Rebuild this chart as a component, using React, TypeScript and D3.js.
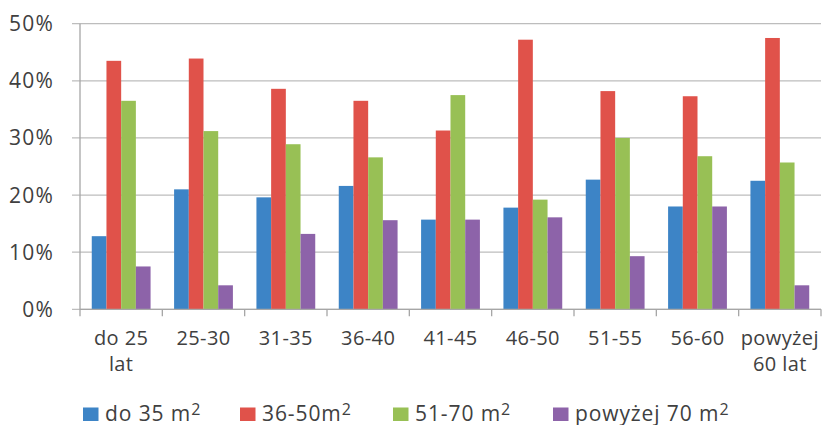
import React from "react";
import * as d3 from "d3";

// Age groups (two-line labels) and flat-size classes
const categories = ["do 25|lat", "25-30", "31-35", "36-40", "41-45", "46-50", "51-55", "56-60", "powyżej|60 lat"];
const seriesNames = ["do 35 m", "36-50m", "51-70 m", "powyżej 70 m"];
const seriesColors = ["#3D84C6", "#E0524A", "#98C055", "#8D63A9"];

// Share of respondents per group (%)
const do35 = [12.8, 21.0, 19.6, 21.6, 15.7, 17.8, 22.7, 18.0, 22.5];
const s36_50 = [43.5, 43.9, 38.6, 36.5, 31.3, 47.2, 38.2, 37.3, 47.5];
const s51_70 = [36.5, 31.2, 28.9, 26.6, 37.5, 19.2, 30.0, 26.8, 25.7];
const pow70 = [7.5, 4.2, 13.2, 15.6, 15.7, 16.1, 9.3, 18.0, 4.2];
const seriesValues = [do35, s36_50, s51_70, pow70];

const yTicks = [0, 10, 20, 30, 40, 50];

const W = 824;
const H = 425;
const left = 80;
const right = 821;
const top = 23.7;
const bottom = 309.3;

const textColor = "#404040";
const font = "'Open Sans', sans-serif";

export default function App() {
  const x0 = d3.scaleBand<number>().domain(d3.range(categories.length)).range([left, right]).padding(0);
  const x1 = d3
    .scaleBand<number>()
    .domain(d3.range(seriesNames.length))
    .range([0, x0.bandwidth()])
    .paddingInner(0)
    .paddingOuter(0.8);
  const y = d3.scaleLinear().domain([0, 50]).range([bottom, top]);

  const legendX = [83, 240, 393, 553];

  return (
    <svg width={W} height={H} style={{ position: "absolute", left: 0, top: 0, background: "#fff" }}>
      {/* horizontal gridlines with tick stubs */}
      {yTicks.map((t) => (
        <line key={"g" + t} x1={left - 8} x2={right} y1={y(t)} y2={y(t)} stroke="#BDBDBD" strokeWidth={1.3} />
      ))}
      {yTicks.map((t) => (
        <text
          key={"yl" + t}
          x={54}
          y={y(t) + 7.5}
          textAnchor="end"
          fontFamily={font}
          fontSize={21}
          letterSpacing={1.2}
          fill={textColor}
        >
          {t}%
        </text>
      ))}

      {/* bars */}
      {seriesValues.map((vals, si) =>
        vals.map((v, ci) => (
          <rect
            key={`b${si}-${ci}`}
            x={(x0(ci) as number) + (x1(si) as number)}
            y={y(v)}
            width={x1.bandwidth()}
            height={y(0) - y(v)}
            fill={seriesColors[si]}
          />
        ))
      )}

      {/* axes */}
      <line x1={left} x2={left} y1={top} y2={bottom} stroke="#A6A6A6" strokeWidth={1.3} />
      <line x1={left} x2={right} y1={bottom} y2={bottom} stroke="#A6A6A6" strokeWidth={1.3} />
      {d3.range(categories.length + 1).map((i) => {
        const xx = left + i * x0.step();
        return <line key={"xt" + i} x1={xx} x2={xx} y1={bottom} y2={bottom + 7} stroke="#A6A6A6" strokeWidth={1.3} />;
      })}

      {/* category labels */}
      {categories.map((c, i) => {
        const cx = (x0(i) as number) + x0.bandwidth() / 2;
        return (
          <text key={"c" + i} x={cx} y={345} textAnchor="middle" fontFamily={font} fontSize={20} letterSpacing={0.4} fill={textColor}>
            {c.split("|").map((ln, k) => (
              <tspan key={k} x={cx} dy={k === 0 ? 0 : 26}>
                {ln}
              </tspan>
            ))}
          </text>
        );
      })}

      {/* legend */}
      {seriesNames.map((s, i) => (
        <g key={"lg" + i}>
          <rect x={legendX[i]} y={407.5} width={15.5} height={13.5} fill={seriesColors[i]} />
          <text x={legendX[i] + 22} y={420.5} fontFamily={font} fontSize={21} letterSpacing={0.9} fill={textColor}>
            {s}
            <tspan fontSize={16} dy={-6}>
              2
            </tspan>
          </text>
        </g>
      ))}
    </svg>
  );
}
